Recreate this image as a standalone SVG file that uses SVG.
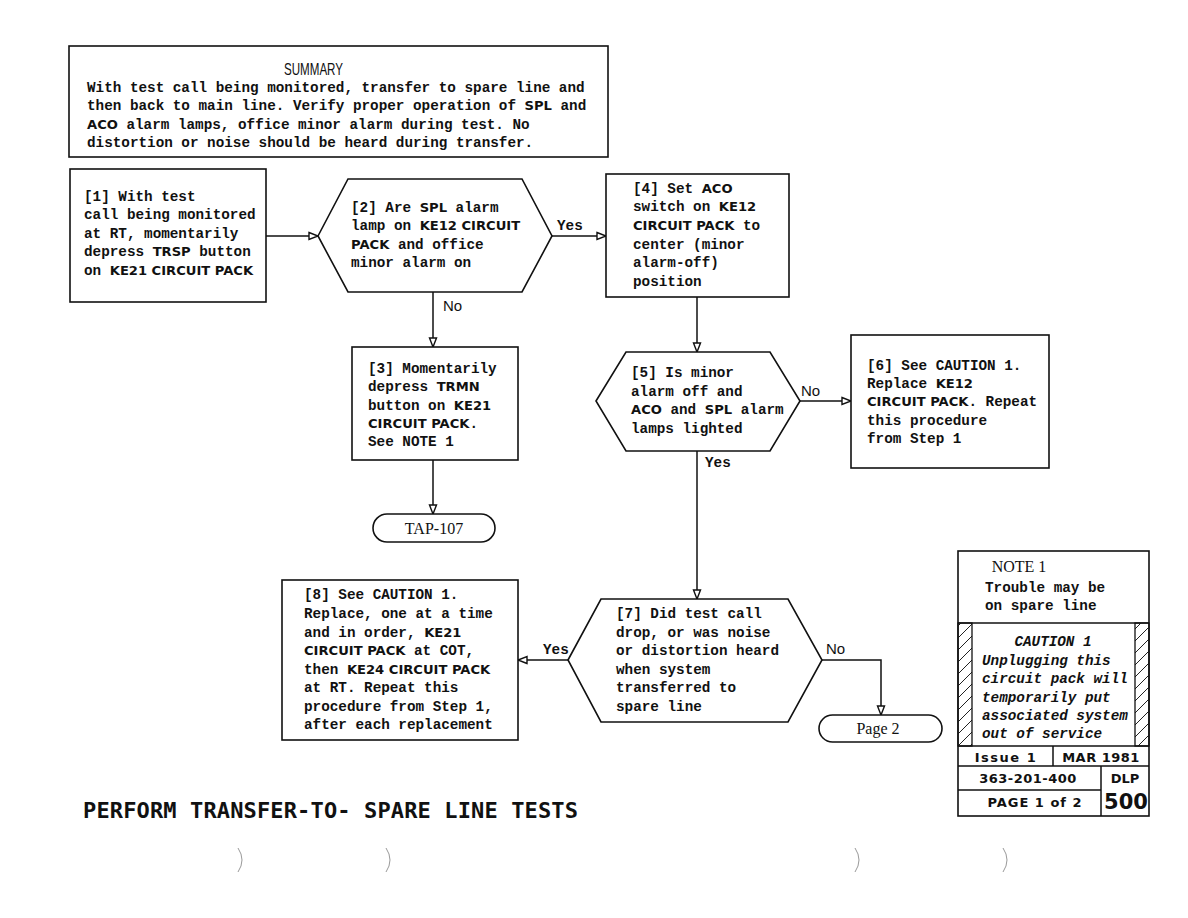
<svg xmlns="http://www.w3.org/2000/svg" width="1188" height="918" viewBox="0 0 1188 918">
<defs>
<style>
.box{fill:#fff;stroke:#111;stroke-width:1.6}
.ln{fill:none;stroke:#111;stroke-width:1.5}
.t{font-family:"Liberation Mono",monospace;font-weight:bold;font-size:14.3px;fill:#111}
.b{font-family:"DejaVu Sans",sans-serif;font-weight:bold;font-size:13.1px}
.lab{font-family:"Liberation Mono",monospace;font-weight:bold;font-size:14.3px;fill:#111}
.labs{font-family:"Liberation Sans",sans-serif;font-size:15px;fill:#111}
.ci{font-family:"Liberation Mono",monospace;font-weight:bold;font-style:italic;font-size:14.3px;fill:#111}
.tb{font-family:"DejaVu Sans",sans-serif;font-weight:bold;font-size:13px;fill:#111}
.title{font-family:"DejaVu Sans Mono",monospace;font-weight:bold;font-size:22px;fill:#111}
.term{font-family:"Liberation Serif",serif;font-size:16px;fill:#111}
.sum{font-family:"Liberation Sans",sans-serif;font-size:17px;fill:#111}
</style>
<marker id="ah" markerWidth="12" markerHeight="10" refX="10" refY="5" orient="auto" markerUnits="userSpaceOnUse">
<path d="M1,1.5 L10,5 L1,8.5 Z" fill="#fff" stroke="#111" stroke-width="1.4"/>
</marker>
<pattern id="hatch" patternUnits="userSpaceOnUse" width="12" height="12">
<path d="M-1,13 L13,-1 M-4,4 L4,-4 M8,16 L16,8" stroke="#222" stroke-width="1"/>
</pattern>
</defs>
<rect width="1188" height="918" fill="#fff"/>

<g id="summary">
<rect class="box" x="69" y="46" width="539" height="111" stroke-width="1.8"/>
<text class="sum" x="284" y="75" textLength="59" lengthAdjust="spacingAndGlyphs">SUMMARY</text>
<text class="t" x="87" y="92">With test call being monitored, transfer to spare line and</text>
<text class="t" x="87" y="110">then back to main line. Verify proper operation of <tspan class="b">SPL</tspan> and</text>
<text class="t" x="87" y="129"><tspan class="b">ACO</tspan> alarm lamps, office minor alarm during test. No</text>
<text class="t" x="87" y="147">distortion or noise should be heard during transfer.</text>
</g>

<g id="connectors">
<path class="ln" d="M266,236 L318,236" marker-end="url(#ah)"/>
<path class="ln" d="M552,236 L606,236" marker-end="url(#ah)"/>
<path class="ln" d="M433,292 L433,347" marker-end="url(#ah)"/>
<path class="ln" d="M433,460 L433,514" marker-end="url(#ah)"/>
<path class="ln" d="M697,297 L697,352" marker-end="url(#ah)"/>
<path class="ln" d="M800,401 L851,401" marker-end="url(#ah)"/>
<path class="ln" d="M697,451 L697,599" marker-end="url(#ah)"/>
<path class="ln" d="M568,660 L518,660" marker-end="url(#ah)"/>
<path class="ln" d="M822,660 L881,660 L881,715" marker-end="url(#ah)"/>
<text class="lab" x="557" y="230">Yes</text>
<text class="labs" x="443" y="311">No</text>
<text class="labs" x="801" y="396">No</text>
<text class="lab" x="705" y="467">Yes</text>
<text class="lab" x="543" y="654">Yes</text>
<text class="labs" x="826" y="654">No</text>
</g>

<g id="n1">
<rect class="box" x="70" y="169" width="196" height="133"/>
<text class="t" x="84" y="201">[1] With test</text>
<text class="t" x="84" y="219">call being monitored</text>
<text class="t" x="84" y="238">at RT, momentarily</text>
<text class="t" x="84" y="256">depress <tspan class="b">TRSP</tspan> button</text>
<text class="t" x="84" y="275">on <tspan class="b">KE21 CIRCUIT PACK</tspan></text>
</g>

<g id="n2">
<polygon class="box" points="318,236 348,179 522,179 552,236 522,292 348,292"/>
<text class="t" x="351" y="212">[2] Are <tspan class="b">SPL</tspan> alarm</text>
<text class="t" x="351" y="230">lamp on <tspan class="b">KE12 CIRCUIT</tspan></text>
<text class="t" x="351" y="249"><tspan class="b">PACK</tspan> and office</text>
<text class="t" x="351" y="267">minor alarm on</text>
</g>

<g id="n4">
<rect class="box" x="606" y="174" width="183" height="123"/>
<text class="t" x="633" y="193">[4] Set <tspan class="b">ACO</tspan></text>
<text class="t" x="633" y="211">switch on <tspan class="b">KE12</tspan></text>
<text class="t" x="633" y="230"><tspan class="b">CIRCUIT PACK</tspan> to</text>
<text class="t" x="633" y="249">center (minor</text>
<text class="t" x="633" y="267">alarm-off)</text>
<text class="t" x="633" y="286">position</text>
</g>

<g id="n3">
<rect class="box" x="352" y="347" width="166" height="113"/>
<text class="t" x="368" y="373">[3] Momentarily</text>
<text class="t" x="368" y="391">depress <tspan class="b">TRMN</tspan></text>
<text class="t" x="368" y="410">button on <tspan class="b">KE21</tspan></text>
<text class="t" x="368" y="428"><tspan class="b">CIRCUIT PACK</tspan>.</text>
<text class="t" x="368" y="446">See NOTE 1</text>
</g>

<g id="tap107">
<rect class="box" x="373" y="514" width="122" height="28" rx="14" ry="14"/>
<text class="term" x="434" y="534" text-anchor="middle">TAP-107</text>
</g>

<g id="n5">
<polygon class="box" points="596,401 626,352 770,352 800,401 770,451 626,451"/>
<text class="t" x="631" y="377">[5] Is minor</text>
<text class="t" x="631" y="396">alarm off and</text>
<text class="t" x="631" y="414"><tspan class="b">ACO</tspan> and <tspan class="b">SPL</tspan> alarm</text>
<text class="t" x="631" y="433">lamps lighted</text>
</g>

<g id="n6">
<rect class="box" x="851" y="335" width="198" height="133"/>
<text class="t" x="867" y="370">[6] See CAUTION 1.</text>
<text class="t" x="867" y="388">Replace <tspan class="b">KE12</tspan></text>
<text class="t" x="867" y="406"><tspan class="b">CIRCUIT PACK</tspan>. Repeat</text>
<text class="t" x="867" y="425">this procedure</text>
<text class="t" x="867" y="443">from Step 1</text>
</g>

<g id="n7">
<polygon class="box" points="568,660 601,599 788,599 822,660 788,722 601,722"/>
<text class="t" x="616" y="618">[7] Did test call</text>
<text class="t" x="616" y="637">drop, or was noise</text>
<text class="t" x="616" y="655">or distortion heard</text>
<text class="t" x="616" y="674">when system</text>
<text class="t" x="616" y="692">transferred to</text>
<text class="t" x="616" y="711">spare line</text>
</g>

<g id="n8">
<rect class="box" x="282" y="580" width="236" height="160"/>
<text class="t" x="304" y="599">[8] See CAUTION 1.</text>
<text class="t" x="304" y="618">Replace, one at a time</text>
<text class="t" x="304" y="637">and in order, <tspan class="b">KE21</tspan></text>
<text class="t" x="304" y="655"><tspan class="b">CIRCUIT PACK</tspan> at COT,</text>
<text class="t" x="304" y="674">then <tspan class="b">KE24 CIRCUIT PACK</tspan></text>
<text class="t" x="304" y="692">at RT. Repeat this</text>
<text class="t" x="304" y="711">procedure from Step 1,</text>
<text class="t" x="304" y="729">after each replacement</text>
</g>

<g id="page2">
<rect class="box" x="819" y="715" width="123" height="27" rx="13.5" ry="13.5"/>
<text class="term" x="878" y="734" text-anchor="middle">Page 2</text>
</g>

<g id="notes">
<rect class="box" x="958" y="551" width="191" height="265"/>
<line class="ln" x1="958" y1="623" x2="1149" y2="623"/>
<rect x="958" y="623" width="14" height="123" fill="url(#hatch)" stroke="#111" stroke-width="1.3"/>
<rect x="1135" y="623" width="14" height="123" fill="url(#hatch)" stroke="#111" stroke-width="1.3"/>
<line class="ln" x1="958" y1="746" x2="1149" y2="746"/>
<line class="ln" x1="958" y1="766" x2="1149" y2="766"/>
<line class="ln" x1="958" y1="790" x2="1101" y2="790"/>
<line class="ln" x1="1053" y1="746" x2="1053" y2="766"/>
<line class="ln" x1="1101" y1="766" x2="1101" y2="816"/>
<text class="term" x="1019" y="572" text-anchor="middle">NOTE 1</text>
<text class="t" x="985" y="592">Trouble may be</text>
<text class="t" x="985" y="610">on spare line</text>
<text class="ci" x="1053" y="646" text-anchor="middle">CAUTION 1</text>
<text class="ci" x="982" y="665">Unplugging this</text>
<text class="ci" x="982" y="683">circuit pack will</text>
<text class="ci" x="982" y="702">temporarily put</text>
<text class="ci" x="982" y="720">associated system</text>
<text class="ci" x="982" y="738">out of service</text>
<text class="tb" x="1006" y="762" text-anchor="middle" letter-spacing="1.5">Issue 1</text>
<text class="tb" x="1101" y="762" text-anchor="middle" letter-spacing="0.5">MAR 1981</text>
<text class="tb" x="1028" y="783" text-anchor="middle" letter-spacing="0.5">363-201-400</text>
<text class="tb" x="1125" y="783" text-anchor="middle">DLP</text>
<text class="tb" x="1035" y="807" text-anchor="middle" letter-spacing="1">PAGE 1 of 2</text>
<text x="1126" y="809" text-anchor="middle" font-family="DejaVu Sans,sans-serif" font-weight="bold" font-size="21" fill="#111">500</text>
</g>

<text class="title" x="83" y="818" textLength="495" lengthAdjust="spacing">PERFORM TRANSFER-TO- SPARE LINE TESTS</text>

<g fill="none" stroke="#999" stroke-width="1">
<path d="M238,848 Q246,860 238,872"/>
<path d="M386,848 Q394,860 386,872"/>
<path d="M855,848 Q863,860 855,872"/>
<path d="M1003,848 Q1011,860 1003,872"/>
</g>
</svg>
